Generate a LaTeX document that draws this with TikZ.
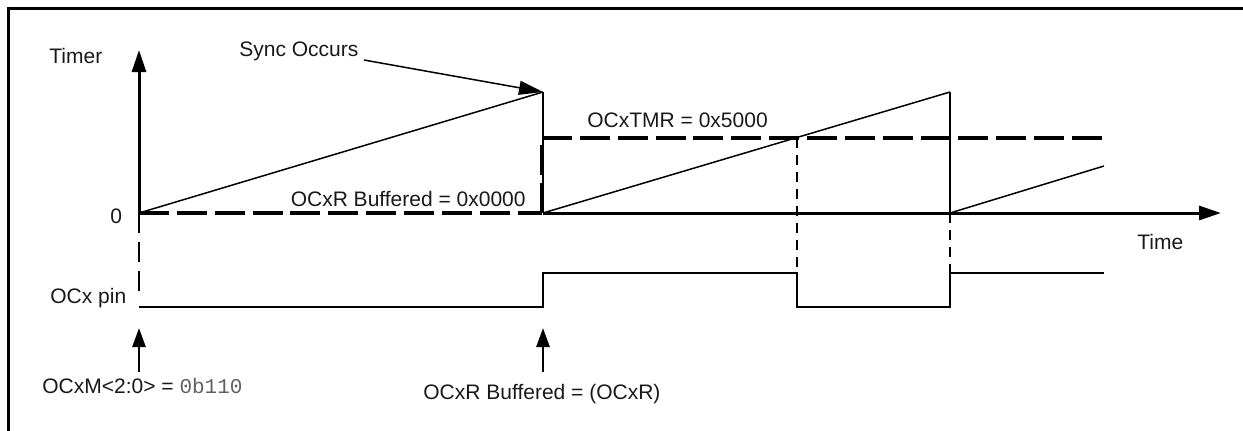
\documentclass[tikz,border=0pt]{standalone}
\usepackage{fontspec}
\setmainfont{Liberation Sans}
\setmonofont{Liberation Mono}
\usetikzlibrary{arrows.meta}
\begin{document}
\begin{tikzpicture}[x=0.5pt,y=-0.5pt,
  lbl/.style={inner sep=0pt, font=\fontsize{10.5}{12}\selectfont, text=black!90},
  frame/.style={line width=1.4pt},
  axis/.style={line width=1.5pt},
  ramp/.style={line width=0.75pt},
  edge/.style={line width=1.3pt},
  sig/.style={line width=1.4pt},
  heavydash/.style={line width=1.9pt, dash pattern=on 15pt off 3.93pt},
  mediumdash/.style={line width=1.4pt, dash pattern=on 10pt off 4.5pt},
  finedash/.style={line width=1.3pt, dash pattern=on 5pt off 3.5pt},
  bigtip/.style={-{Triangle[length=11pt,width=7pt]}},
  smalltip/.style={-{Triangle[length=9.5pt,width=6.5pt]}},
  synctip/.style={-{Triangle[length=12pt,width=7pt]}}
]
\useasboundingbox (0,0) rectangle (1243,430);
% frame
\draw[frame] (8.5,440) -- (8.5,8.5) -- (1250,8.5);

% key coordinates
\coordinate (O) at (139,213);
\coordinate (Ytop) at (139,50);
\coordinate (Xend) at (1221,213);
\coordinate (P1) at (543,92);
\coordinate (B1) at (543,213);
\coordinate (P2) at (950,92);
\coordinate (B2) at (950,213);
\coordinate (R3) at (1104,166);
\coordinate (D0) at (542,213);
\coordinate (D1) at (542,138);
\coordinate (Dend) at (1102,138);
\coordinate (X1) at (797,138);
\coordinate (X1h) at (797,273);
\coordinate (B2h) at (950,273);
\coordinate (Obot) at (139,300);
\coordinate (S0) at (139,307);
\coordinate (S1) at (543,307);
\coordinate (S2) at (543,273);
\coordinate (S3) at (797,273);
\coordinate (S4) at (797,307);
\coordinate (S5) at (950,307);
\coordinate (S6) at (950,273);
\coordinate (S7) at (1104,273);
\coordinate (syncstart) at (364,60);
\coordinate (A1s) at (139,372);
\coordinate (A1e) at (139,328);
\coordinate (A2s) at (543,372);
\coordinate (A2e) at (543,328);

% labels
\node[lbl, anchor=base west] (timer) at (49,63) {Timer};
\node[lbl, anchor=base west] (zero) at (110,223) {0};
\node[lbl, anchor=base west] (sync) at (239,56) {Sync Occurs};
\node[lbl, anchor=base west] (tmr) at (587,127) {OCxTMR = 0x5000};
\node[lbl, anchor=base east] (buf0) at (526,206) {OCxR Buffered = 0x0000};
\node[lbl, anchor=base west] (time) at (1137,249) {Time};
\node[lbl, anchor=base west] (pin) at (50,303) {OCx pin};
\node[lbl, anchor=base west] (ocxm) at (42,393) {OCxM<2:0> = {\ttfamily\color{black!62}0b110}};
\node[lbl, anchor=base west] (bufr) at (423,399) {OCxR Buffered = (OCxR)};

% dashed compare levels
\draw[heavydash] (O) -- (D0);
\draw[heavydash] (D0) -- (D1);
\draw[heavydash] (D1) -- (Dend);
\draw[mediumdash] (O) -- (Obot);
\draw[finedash] (X1) -- (X1h);
\draw[finedash] (B2) -- (B2h);

% axes
\draw[axis, bigtip] (O) -- (Ytop);
\draw[axis, bigtip] (B1) -- (Xend);

% timer ramps
\draw[ramp] (O) -- (P1);
\draw[edge] (P1) -- (B1);
\draw[ramp] (B1) -- (P2);
\draw[edge] (P2) -- (B2);
\draw[ramp] (B2) -- (R3);

% sync arrow
\draw[ramp, synctip] (syncstart) -- (P1);

% OCx pin signal
\draw[sig] (S0) -- (S1) -- (S2) -- (S3) -- (S4) -- (S5) -- (S6) -- (S7);

% event arrows
\draw[edge, smalltip] (A1s) -- (A1e);
\draw[edge, smalltip] (A2s) -- (A2e);
\end{tikzpicture}
\end{document}
